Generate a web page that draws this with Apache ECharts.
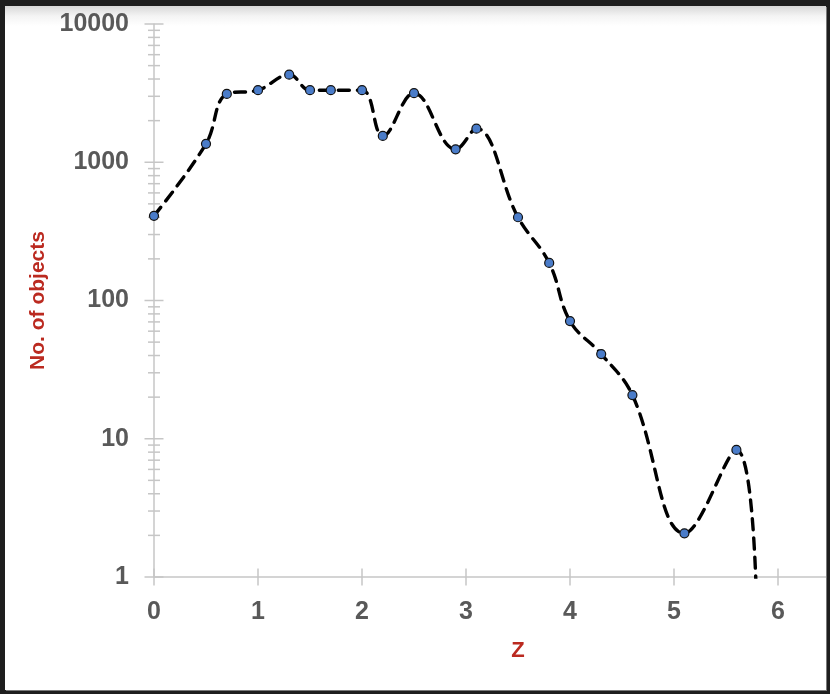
<!DOCTYPE html>
<html>
<head>
<meta charset="utf-8">
<script src="https://cdn.jsdelivr.net/npm/echarts@6/dist/echarts.min.js"></script>
<style>
  html, body { margin: 0; padding: 0; width: 830px; height: 694px; background: #1e1e1e; overflow: hidden; }
  #frame { position: absolute; left: 5px; top: 6px; width: 821px; height: 684px; overflow: hidden;
    background: linear-gradient(to bottom, #d8d8d8 0px, #f4f4f4 10px, #ffffff 20px);
    box-shadow: 1px 1px 0 #7a7a7a; }
  #chart { position: absolute; left: 0; top: 0; width: 900px; height: 684px; }
</style>
</head>
<body>
<div id="frame"><div id="chart"></div></div>
<script>
// ---- data ----
const zValues = [0, 0.5, 0.7, 1.0, 1.3, 1.5, 1.7, 2.0, 2.2, 2.5, 2.9, 3.1, 3.5, 3.8, 4.0, 4.3, 4.6, 5.1, 5.6, 5.8];
const counts  = [410, 1360, 3120, 3320, 4300, 3320, 3320, 3320, 1550, 3160, 1240, 1750, 400, 187, 71, 41, 20.7, 2.07, 8.3, 0.4];
const xTickValues = [0, 1, 2, 3, 4, 5, 6, 7];
const xTickLabels = ['0', '1', '2', '3', '4', '5', '6', '7'];
const yMajorTicks = [1, 10, 100, 1000, 10000];
const yTickLabels = ['1', '10', '100', '1000', '10000'];
const yMinorMultipliers = [2, 3, 4, 5, 6, 7, 8, 9];
const xTitle = 'Z';
const yTitle = 'No. of objects';

// ---- build ----
const seriesData = zValues.map((z, i) => [z, counts[i]]);
const yMinorTicks = [];
yMajorTicks.slice(0, -1).forEach(d => yMinorMultipliers.forEach(m => yMinorTicks.push(d * m)));
const tickData = [];
yMajorTicks.forEach(v => tickData.push([0, v, 'ymaj']));
yMinorTicks.forEach(v => tickData.push([0, v, 'ymin']));
xTickValues.forEach(v => tickData.push([v, 1, 'x']));

const axisColor = '#c6c6c6';
const labelColor = '#595959';
const titleColor = '#bb2a20';
const fontFam = '"Liberation Sans", Arial, sans-serif';

const chart = echarts.init(document.getElementById('chart'), null, { renderer: 'canvas' });
chart.setOption({
  animation: false,
  backgroundColor: 'transparent',
  // the original plot continues to z = 7, beyond the cropped right edge of the frame
  grid: { left: 149, top: 18, right: 23, bottom: 113, containLabel: false },
  xAxis: {
    type: 'value', min: 0, max: 7, interval: 1,
    axisLine: { show: true, lineStyle: { color: axisColor, width: 1.5 } },
    axisTick: { show: false },
    splitLine: { show: false },
    axisLabel: {
      margin: 23, color: labelColor, fontSize: 25, fontWeight: 'bold', fontFamily: fontFam,
      formatter: v => { const i = xTickValues.indexOf(Math.round(v * 1000) / 1000); return i >= 0 ? xTickLabels[i] : ''; }
    },
    name: xTitle, nameLocation: 'middle', nameGap: 63,
    nameTextStyle: { color: titleColor, fontSize: 22, fontWeight: 'bold', fontFamily: fontFam }
  },
  yAxis: {
    type: 'log', logBase: 10, min: 1, max: 10000,
    axisLine: { show: true, lineStyle: { color: axisColor, width: 1.5 } },
    axisTick: { show: false },
    minorTick: { show: false },
    splitLine: { show: false },
    axisLabel: {
      margin: 25, color: labelColor, fontSize: 25, fontWeight: 'bold', fontFamily: fontFam,
      formatter: v => { const i = Math.round(Math.log10(v)); return yTickLabels[i] !== undefined ? yTickLabels[i] : ''; }
    },
    name: yTitle, nameLocation: 'middle', nameGap: 104, nameRotate: 90,
    nameTextStyle: { color: titleColor, fontSize: 21, fontWeight: 'bold', fontFamily: fontFam }
  },
  series: [
    {
      type: 'custom',
      silent: true,
      clip: false,
      z: 1,
      data: tickData,
      encode: { x: 0, y: 1 },
      renderItem: (params, api) => {
        const kind = tickData[params.dataIndex][2];
        const p = api.coord([api.value(0), api.value(1)]);
        let shape;
        if (kind === 'x') shape = { x1: p[0], y1: p[1] - 8.5, x2: p[0], y2: p[1] + 8.5 };
        else if (kind === 'ymaj') shape = { x1: p[0] - 9.5, y1: p[1], x2: p[0] + 9.5, y2: p[1] };
        else shape = { x1: p[0] - 6, y1: p[1], x2: p[0] + 6, y2: p[1] };
        return { type: 'line', shape: shape, style: { stroke: axisColor, lineWidth: 1.5 } };
      }
    },
    {
      type: 'line',
      z: 3,
      data: seriesData,
      smooth: 0.4,
      clip: true,
      showAllSymbol: true,
      symbol: 'circle',
      symbolSize: 9,
      lineStyle: { color: '#000000', width: 3.4, type: [11, 8], cap: 'round' },
      itemStyle: { color: '#4a7cc9', borderColor: '#111111', borderWidth: 1.2 }
    }
  ]
});
</script>
</body>
</html>
